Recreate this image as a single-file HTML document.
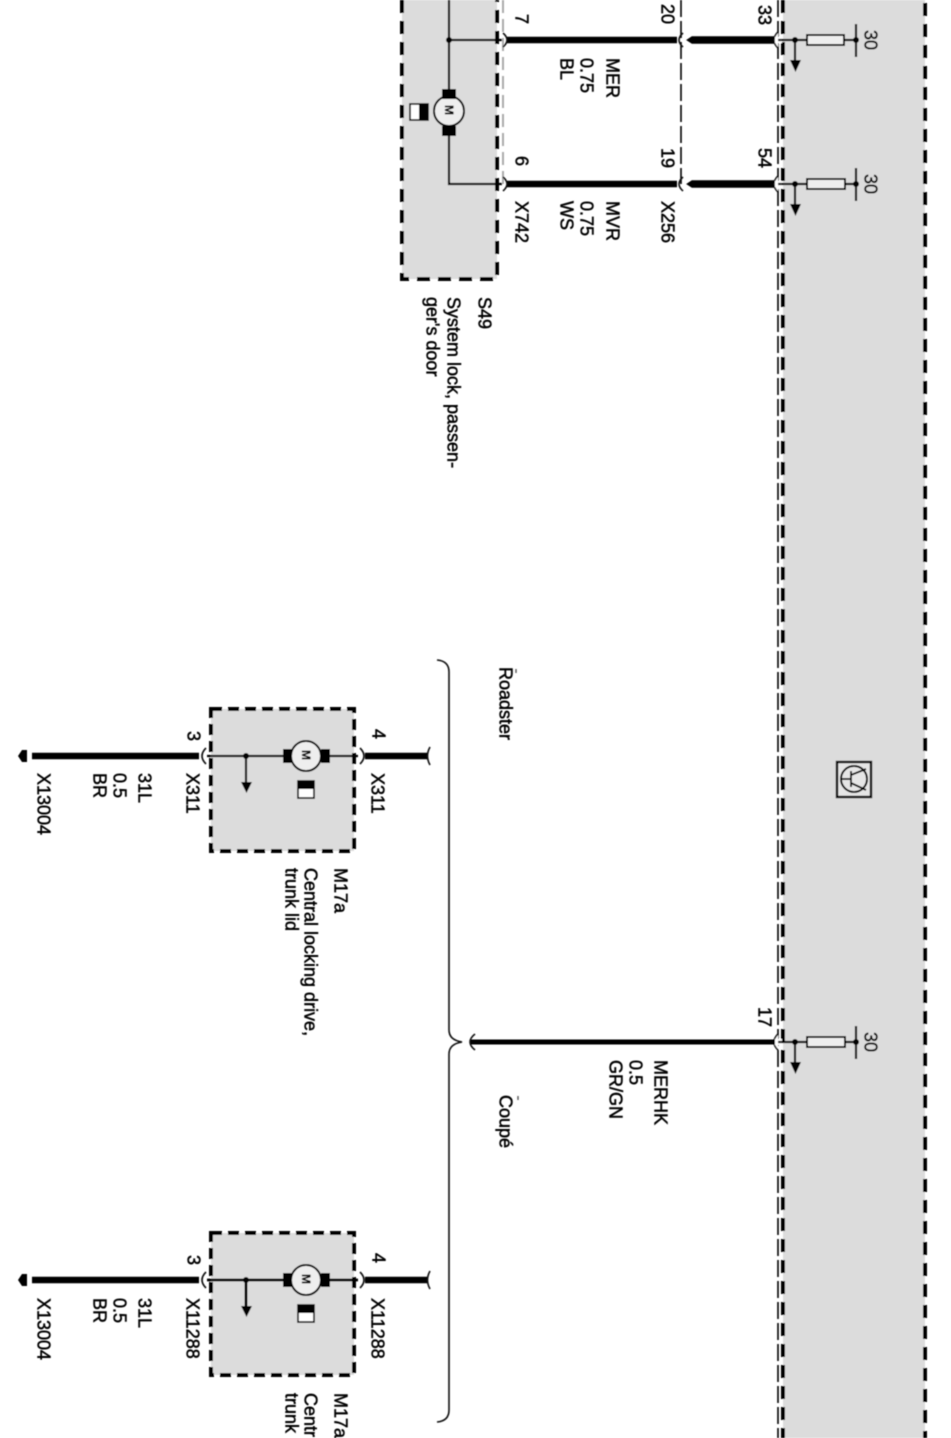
<!DOCTYPE html>
<html>
<head>
<meta charset="utf-8">
<title>Central locking wiring diagram</title>
<style>
html,body{margin:0;padding:0;background:#fff;width:951px;height:1438px;overflow:hidden}
svg{display:block;width:951px;height:1438px;overflow:hidden}
text{font-family:"Liberation Sans",sans-serif;font-size:18px;fill:#000;stroke:#000;stroke-width:.5}
.m{font-size:12px;font-weight:bold;stroke-width:.2}
.b{fill:none;stroke:#000;stroke-width:4;stroke-dasharray:13 8}
.c{fill:none;stroke:#000;stroke-width:4;stroke-dasharray:11 6}
.t{fill:none;stroke:#000;stroke-width:1.6;stroke-dasharray:17 4}
.w{stroke:#000;stroke-width:6.5;fill:none}
.n{stroke:#000;stroke-width:2.2;fill:none}
.a{stroke:#111;stroke-width:1.6;fill:none}
</style>
</head>
<body>
<svg width="951" height="1438" viewBox="0 0 951 1438" xmlns="http://www.w3.org/2000/svg">
<g filter="url(#s)">
<!-- main control unit -->
<rect x="783" y="0" width="142" height="1438" fill="#dcdcdc"/>
<line x1="783" y1="0" x2="783" y2="1438" class="b"/>
<line x1="925" y1="3" x2="925" y2="1438" class="b"/>
<line x1="778" y1="0" x2="778" y2="1438" class="t"/>

<!-- S49 -->
<rect x="402" y="0" width="95" height="279" fill="#dcdcdc"/>
<path d="M402 0V279H497V0" class="b"/>
<line x1="503" y1="0" x2="503" y2="184" stroke="#aaa" stroke-width="2" stroke-dasharray="13 6"/>
<line x1="681" y1="0" x2="681" y2="184" class="t" stroke-width="1.4"/>
<path d="M449 0V89M449 134V184H502M449 40H502" class="n"/>
<circle cx="449" cy="40" r="3" fill="#000"/>
<circle cx="449" cy="111" r="15" fill="#eee" stroke="#000" stroke-width="2"/>
<rect x="442" y="89" width="14" height="10" fill="#000"/>
<rect x="442" y="126" width="14" height="10" fill="#000"/>
<text class="m" transform="translate(445,105) rotate(90)">M</text>
<rect x="410" y="104" width="18" height="16" fill="#fff" stroke="#000" stroke-width="1.6"/>
<rect x="419" y="104" width="9" height="16" fill="#000"/>

<!-- upper wires -->
<line x1="507" y1="40" x2="677" y2="40" class="w"/>
<line x1="507" y1="184" x2="677" y2="184" class="w"/>
<path d="M687 40L692 36.800H775V43.200H692Z" fill="#000" stroke="#000" stroke-width="1"/>
<path d="M687 184L692 180.800H775V187.200H692Z" fill="#000" stroke="#000" stroke-width="1"/>
<path d="M503 33Q511 40 503 47M503 177Q511 184 503 191" class="a"/>
<path d="M683 33Q675 40 683 47M683 177Q675 184 683 191" class="a"/>

<!-- wire end stubs at main unit -->
<g>
<path d="M778 32Q770 40 778 48" stroke="#111" stroke-width="1.6" fill="#fff"/>
<rect x="775" y="37" width="7" height="6" fill="#fff"/>
<path d="M778 40H807M844 40H856M795 40V61" class="n"/>
<circle cx="795" cy="40" r="3" fill="#000"/>
<path d="M790 60H801L795.500 72Z" fill="#000"/>
<rect x="807" y="35" width="37" height="10" fill="#eee" stroke="#000" stroke-width="2"/>
<line x1="856" y1="24" x2="856" y2="57" class="n"/>
<circle cx="856" cy="40" r="3" fill="#000"/>
<text transform="translate(864.500,30) rotate(90)">30</text>
</g>
<g transform="translate(0,144)">
<path d="M778 32Q770 40 778 48" stroke="#111" stroke-width="1.6" fill="#fff"/>
<rect x="775" y="37" width="7" height="6" fill="#fff"/>
<path d="M778 40H807M845 40H856M795 40V61" class="n"/>
<circle cx="795" cy="40" r="3" fill="#000"/>
<path d="M790 60H801L795.500 72Z" fill="#000"/>
<rect x="807" y="35" width="38" height="10" fill="#eee" stroke="#000" stroke-width="2"/>
<line x1="856" y1="24" x2="856" y2="57" class="n"/>
<circle cx="856" cy="40" r="3" fill="#000"/>
<text transform="translate(864.500,30) rotate(90)">30</text>
</g>
<g transform="translate(0,1002)">
<path d="M778 32Q770 40 778 48" stroke="#111" stroke-width="1.6" fill="#fff"/>
<rect x="775" y="37" width="7" height="6" fill="#fff"/>
<path d="M778 40H807M845 40H856M795 40V61" class="n"/>
<circle cx="795" cy="40" r="3" fill="#000"/>
<path d="M790 60H801L795.500 72Z" fill="#000"/>
<rect x="807" y="35" width="38" height="10" fill="#eee" stroke="#000" stroke-width="2"/>
<line x1="856" y1="24" x2="856" y2="57" class="n"/>
<circle cx="856" cy="40" r="3" fill="#000"/>
<text transform="translate(864.500,30) rotate(90)">30</text>
</g>

<!-- upper labels -->
<text transform="translate(758.500,5) rotate(90)">33</text>
<text transform="translate(758.500,148) rotate(90)">54</text>
<text transform="translate(661.500,4) rotate(90)">20</text>
<text transform="translate(661.500,148) rotate(90)">19</text>
<text transform="translate(515.500,14) rotate(90)">7</text>
<text transform="translate(515.500,156) rotate(90)">6</text>
<text transform="translate(606.500,58) rotate(90)">MER</text>
<text transform="translate(580.500,58) rotate(90)">0.75</text>
<text transform="translate(560.500,58) rotate(90)">BL</text>
<text transform="translate(606.500,201) rotate(90)">MVR</text>
<text transform="translate(580.500,201) rotate(90)">0.75</text>
<text transform="translate(560.500,201) rotate(90)">WS</text>
<text transform="translate(661.500,201) rotate(90)">X256</text>
<text transform="translate(515.500,201) rotate(90)">X742</text>
<text transform="translate(478.500,297) rotate(90)">S49</text>
<text transform="translate(447.500,297) rotate(90)">System lock, passen-</text>
<text transform="translate(426.500,297) rotate(90)">ger's door</text>

<!-- transistor symbol -->
<rect x="837" y="762" width="34" height="35" fill="#e6e6e6" stroke="#000" stroke-width="2.4"/>
<circle cx="854" cy="779" r="13" fill="none" stroke="#000" stroke-width="2"/>
<path d="M841 779H851M851 771V787M851 775L866 769M851 783L866 790" fill="none" stroke="#000" stroke-width="1.8"/>

<!-- brace -->
<path d="M437 660Q449 661 449 672V1030Q449 1040 462 1042Q449 1044 449 1054V1410Q449 1421 437 1422" fill="none" stroke="#111" stroke-width="1.6"/>
<text transform="translate(499.500,667) rotate(90)">Roadster</text>
<text transform="translate(499.500,1095) rotate(90)">Coupé</text>
<path d="M516 669V673M518 1096V1100" stroke="#555" stroke-width="1.4"/>

<!-- MERHK wire -->
<line x1="470" y1="1042" x2="775" y2="1042" stroke="#000" stroke-width="5"/>
<path d="M475 1034Q465 1042 475 1050" class="a"/>
<text transform="translate(758.500,1007) rotate(90)">17</text>
<text transform="translate(654.500,1060) rotate(90)">MERHK</text>
<text transform="translate(629.500,1060) rotate(90)">0.5</text>
<text transform="translate(609.500,1060) rotate(90)">GR/GN</text>

<!-- M17a Roadster -->
<rect x="211" y="709" width="143" height="142" fill="#dcdcdc"/>
<rect x="211" y="709" width="143" height="142" class="c"/>
<path d="M32 756H199" class="w"/>
<path d="M365 756H428" class="w"/>
<path d="M207 756H358M246 756V782" class="n"/>
<circle cx="246" cy="756" r="3" fill="#000"/>
<path d="M241 782H252L246.500 793Z" fill="#000"/>
<circle cx="306" cy="756" r="15" fill="#eee" stroke="#000" stroke-width="2"/>
<rect x="283" y="749" width="9" height="14" fill="#000"/>
<rect x="321" y="749" width="9" height="14" fill="#000"/>
<text class="m" transform="translate(302,750) rotate(90)">M</text>
<rect x="298" y="781" width="16" height="17" fill="#fff" stroke="#000" stroke-width="1.6"/>
<rect x="298" y="781" width="16" height="8" fill="#000"/>
<path d="M206 748Q198 756 206 764M360 748Q368 756 360 764M430 747Q425 756 430 765" class="a"/>
<path d="M18 756L22 750H27V762H22Z" fill="#000"/>
<text transform="translate(187.500,731) rotate(90)">3</text>
<text transform="translate(372.500,729) rotate(90)">4</text>
<text transform="translate(186.500,773) rotate(90)">X311</text>
<text transform="translate(371.500,773) rotate(90)">X311</text>
<text transform="translate(138.500,773) rotate(90)">31L</text>
<text transform="translate(113.500,773) rotate(90)">0.5</text>
<text transform="translate(93.500,773) rotate(90)">BR</text>
<text transform="translate(37.500,773) rotate(90)">X13004</text>
<text transform="translate(334.500,868) rotate(90)">M17a</text>
<text transform="translate(304.500,868) rotate(90)">Central locking drive,</text>
<text transform="translate(285.500,868) rotate(90)">trunk lid</text>

<!-- M17a Coupe -->
<rect x="211" y="1233" width="143" height="142" fill="#dcdcdc"/>
<rect x="211" y="1233" width="143" height="142" class="c"/>
<path d="M32 1280H199" class="w"/>
<path d="M365 1280H428" class="w"/>
<path d="M207 1280H358M246 1280V1306" class="n" style="stroke-width:2.8"/>
<circle cx="246" cy="1280" r="3" fill="#000"/>
<path d="M241 1306H252L246.500 1317Z" fill="#000"/>
<circle cx="306" cy="1280" r="15" fill="#eee" stroke="#000" stroke-width="2"/>
<rect x="283" y="1273" width="9" height="14" fill="#000"/>
<rect x="321" y="1273" width="9" height="14" fill="#000"/>
<text class="m" transform="translate(302,1274) rotate(90)">M</text>
<rect x="298" y="1305" width="16" height="17" fill="#fff" stroke="#000" stroke-width="1.6"/>
<rect x="298" y="1305" width="16" height="8" fill="#000"/>
<path d="M206 1272Q198 1280 206 1288M360 1272Q368 1280 360 1288M430 1271Q425 1280 430 1289" class="a"/>
<path d="M18 1280L22 1274H27V1286H22Z" fill="#000"/>
<text transform="translate(187.500,1255) rotate(90)">3</text>
<text transform="translate(372.500,1253) rotate(90)">4</text>
<text transform="translate(186.500,1298) rotate(90)">X11288</text>
<text transform="translate(371.500,1298) rotate(90)">X11288</text>
<text transform="translate(138.500,1298) rotate(90)">31L</text>
<text transform="translate(113.500,1298) rotate(90)">0.5</text>
<text transform="translate(93.500,1298) rotate(90)">BR</text>
<text transform="translate(37.500,1298) rotate(90)">X13004</text>
<text transform="translate(334.500,1393) rotate(90)">M17a</text>
<text transform="translate(304.500,1393) rotate(90)">Centr</text>
<text transform="translate(285.500,1393) rotate(90)">trunk</text>
</g>
<defs><filter id="s" x="0" y="0" width="951" height="1438" filterUnits="userSpaceOnUse"><feGaussianBlur stdDeviation="0.5"/></filter></defs>
</svg>
</body>
</html>
